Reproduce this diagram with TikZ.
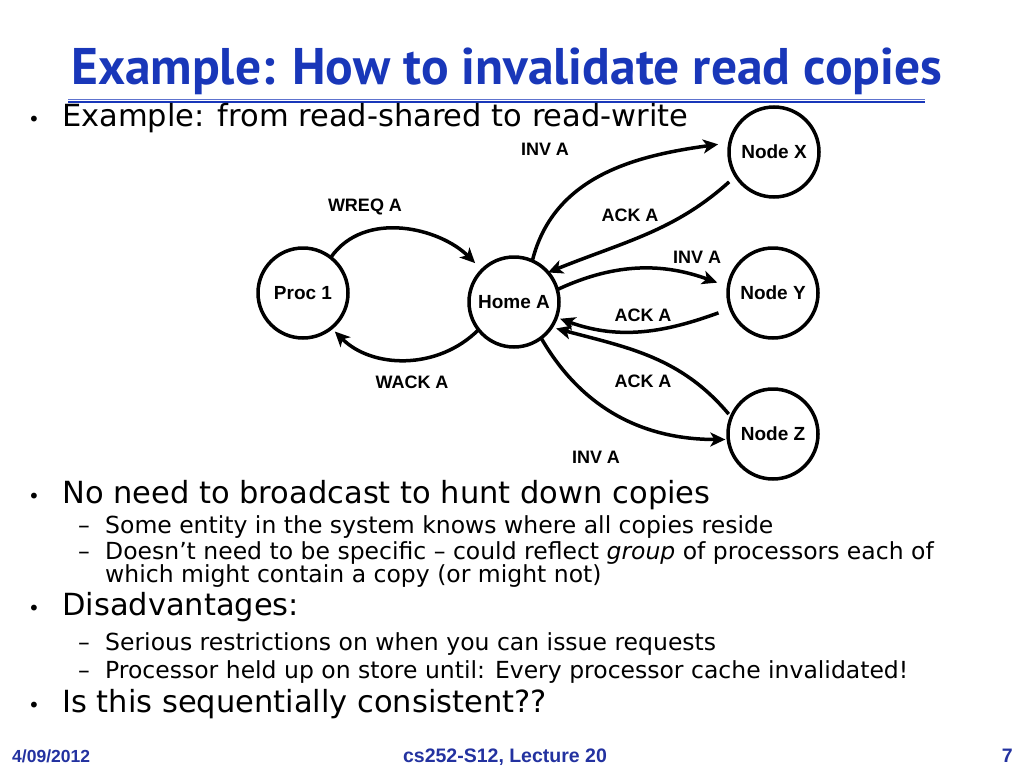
\documentclass[tikz,border=0pt]{standalone}
\usepackage{fontspec}
\setmainfont{DejaVu Sans}
\newfontfamily\titlefont{PT Sans}
\newfontfamily\arialfont{Liberation Sans}
\usetikzlibrary{arrows.meta,positioning}
\definecolor{slideblue}{RGB}{25,55,185}
\definecolor{footblue}{RGB}{35,50,160}

\tikzset{
  msgnode/.style={circle, draw, line width=3.5pt, minimum size=90pt, inner sep=0pt, outer sep=0pt, font=\arialfont\bfseries\fontsize{19}{21}\selectfont},
  msgarrow/.style={line width=3.5pt, -{Stealth[length=15pt,width=14pt,inset=4pt]}},
  msglabel/.style={inner sep=0pt, font=\arialfont\bfseries\fontsize{18}{20}\selectfont},
  lvlone/.style={anchor=base west, inner sep=0pt, font=\fontsize{30.5}{33}\selectfont},
  lvltwo/.style={anchor=base west, inner sep=0pt, font=\fontsize{23.5}{25}\selectfont},
  dotmark/.style={anchor=base west, inner sep=0pt, font=\fontsize{20}{22}\selectfont},
  footer/.style={anchor=base, inner sep=0pt, text=footblue, font=\arialfont\bfseries\fontsize{19.5}{21}\selectfont},
}

\begin{document}
\begin{tikzpicture}[x=1pt,y=-1pt]
  \useasboundingbox (0,0) rectangle (1024,768);
  \fill[white] (0,0) rectangle (1024,768);

  % --- Title ---
  \node[anchor=base west, inner sep=0pt, text=slideblue, font=\titlefont\bfseries\fontsize{51.5}{55}\selectfont] (title) at (71,84) {Example: How to invalidate read copies};
  \draw[slideblue!70, line width=1pt] (68,99) -- (925,99);
  \draw[slideblue, line width=2.5pt] (68,102) -- (925,102);

  % --- First bullet ---
  \node[dotmark] (b1) at (28,126) {\textbullet};
  \node[lvlone] (t1) at (62,126) {Example: from read-shared to read-write};

  % --- Nodes ---
  \node[msgnode] (proc) at (303,293) {Proc 1};
  \node[msgnode] (home) at (514,302) {Home A};
  \node[msgnode] (nx) at (774,152) {Node X};
  \node[msgnode] (ny) at (773,293) {Node Y};
  \node[msgnode] (nz) at (773,434) {Node Z};

  % --- Messages ---
  \draw[msgarrow, shorten >=10pt] (proc.52) to[out=55,in=135] (home.135);
  \draw[msgarrow, shorten >=5pt] (home.218) to[out=225,in=-45] (proc.-51);
  \draw[msgarrow, shorten >=12pt] (home.66) to[out=76,in=188] (nx.168);
  \draw[msgarrow, shorten <=9pt] (nx.212) to[out=222,in=22] (home.41);
  \draw[msgarrow, shorten >=12pt] (home.16) to[out=25,in=160] (ny.172);
  \draw[msgarrow, shorten <=13pt, shorten >=4pt] (ny.200) to[out=200,in=-20] (home.-20);
  \draw[msgarrow, shorten <=4pt, shorten >=5pt] (nz.158) to[out=130,in=-15] (home.-34);
  \draw[msgarrow, shorten >=3pt] (home.-53) to[out=-60,in=180] (nz.187);

  % --- Message labels ---
  \node[msglabel] (lwreq) at (365,207) {WREQ A};
  \node[msglabel] (lwack) at (412,382) {WACK A};
  \node[msglabel] (linvx) at (545,149) {INV A};
  \node[msglabel] (lackx) at (630,215) {ACK A};
  \node[msglabel] (linvy) at (697,257) {INV A};
  \node[msglabel] (lacky) at (643,315) {ACK A};
  \node[msglabel] (lackz) at (643,381) {ACK A};
  \node[msglabel] (linvz) at (596,457) {INV A};

  % --- Lower bullets ---
  \node[dotmark] (b2) at (28,503) {\textbullet};
  \node[lvlone] (t2) at (62,503) {No need to broadcast to hunt down copies};
  \node[lvltwo] (d21) at (78,533) {--};
  \node[lvltwo] (t21) at (105,533) {Some entity in the system knows where all copies reside};
  \node[lvltwo] (d22) at (78,559) {--};
  \node[lvltwo] (t22) at (105,559) {Doesn't need to be specific -- could reflect \textit{group} of processors each of};
  \node[lvltwo] (t23) at (105,582) {which might contain a copy (or might not)};

  \node[dotmark] (b3) at (28,615) {\textbullet};
  \node[lvlone] (t3) at (62,615) {Disadvantages:};
  \node[lvltwo] (d31) at (78,650) {--};
  \node[lvltwo] (t31) at (105,650) {Serious restrictions on when you can issue requests};
  \node[lvltwo] (d32) at (78,678) {--};
  \node[lvltwo] (t32) at (105,678) {Processor held up on store until: Every processor cache invalidated!};

  \node[dotmark] (b4) at (28,712) {\textbullet};
  \node[lvlone] (t4) at (62,712) {Is this sequentially consistent??};

  % --- Footer ---
  \node[footer, anchor=base west, font=\arialfont\bfseries\fontsize{17.5}{19}\selectfont] (date) at (12,762) {4/09/2012};
  \node[footer] (course) at (505,762) {cs252-S12, Lecture 20};
  \node[footer, anchor=base east] (page) at (1013,762) {7};
\end{tikzpicture}
\end{document}
